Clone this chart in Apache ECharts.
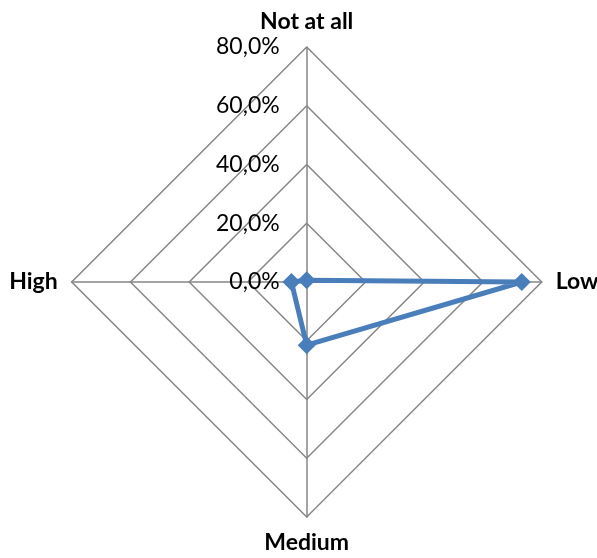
<!DOCTYPE html>
<html><head><meta charset="utf-8">
<script src="https://cdn.jsdelivr.net/npm/echarts@6/dist/echarts.min.js"></script>
<style>html,body{margin:0;padding:0;background:#fff}#c{width:597px;height:558px}</style>
</head><body><div id="c"></div>
<script>
// indicators listed counter-clockwise from the top (ECharts radar order)
const categories = ['Not at all', 'High', 'Medium', 'Low'];
const values = [0.6, 5.2, 21.5, 73.2];
const tickMax = 80;

const chart = echarts.init(document.getElementById('c'));
const fmt = v => v.toFixed(1).replace('.', ',') + '%';
chart.setOption({
  animation: false,
  radar: {
    center: [306.7, 282],
    radius: 235,
    shape: 'polygon',
    splitNumber: 4,
    startAngle: 90,
    axisName: { color: '#000', fontFamily: 'Lato', fontWeight: 'bold', fontSize: 23 },
    nameGap: 14,
    splitLine: { lineStyle: { color: '#868686', width: 1.5 } },
    splitArea: { show: false },
    axisLine: { lineStyle: { color: '#868686', width: 1.5 } },
    axisTick: { show: false },
    axisLabel: { show: false },
    indicator: categories.map((c, i) => ({
      name: c, min: 0, max: tickMax,
      axisLabel: i === 0 ? { show: true, color: '#000', fontFamily: 'Lato', fontSize: 23, formatter: fmt, margin: 27, padding: [6, 0, 0, 0] } : { show: false }
    }))
  },
  series: [{
    type: 'radar',
    symbol: 'diamond',
    symbolSize: 18,
    lineStyle: { color: '#4A7EBB', width: 5 },
    itemStyle: { color: '#4A7EBB' },
    data: [{ value: values }]
  }]
});
</script></body></html>
